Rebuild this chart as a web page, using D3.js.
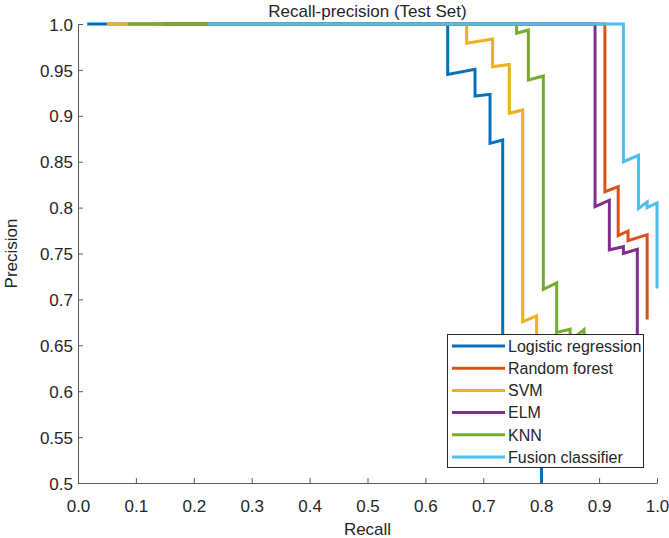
<!DOCTYPE html>
<html>
<head>
<meta charset="utf-8">
<script src="https://cdn.jsdelivr.net/npm/d3@7"></script>
<style>
  html, body { margin: 0; padding: 0; background: #fff; }
  svg { display: block; font-family: "Liberation Sans", Arial, Helvetica, sans-serif; }
</style>
</head>
<body>
<svg id="chart" width="669" height="538"></svg>
<script>
// ---- Data ----
const seriesNames = ["Logistic regression", "Random forest", "SVM", "ELM", "KNN", "Fusion classifier"];
const seriesColors = ["#0072BD", "#D95319", "#EDB120", "#7E2F8E", "#77AC30", "#4DBEEE"];

const recallLR    = [0.016, 0.6385, 0.6385, 0.6857, 0.6857, 0.7116, 0.7116, 0.7335, 0.7335, 0.8005, 0.8005];
const precisionLR = [1.0,   1.0,    0.945,  0.9507, 0.9216, 0.9234, 0.870,  0.8736, 0.56,   0.53,   0.5];

const recallRF    = [0.12, 0.910, 0.910,  0.933,  0.933,  0.950,  0.950, 0.983,  0.983];
const precisionRF = [1.0,  1.0,   0.8173, 0.8228, 0.7695, 0.7745, 0.764, 0.7705, 0.678];

const recallSVM    = [0.05, 0.6713, 0.6713, 0.716,  0.716,  0.745, 0.745,  0.768,  0.768,  0.792, 0.792];
const precisionSVM = [1.0,  1.0,    0.979,  0.9837, 0.9535, 0.956, 0.9027, 0.9063, 0.6757, 0.682, 0.60];

const recallELM    = [0.15, 0.893, 0.893, 0.9177, 0.9177, 0.942,  0.942, 0.966,  0.966];
const precisionELM = [1.0,  1.0,   0.801, 0.808,  0.754,  0.7574, 0.750, 0.7546, 0.60];

const recallKNN    = [0.086, 0.7575, 0.7575, 0.7778, 0.7778, 0.8037, 0.8037, 0.8267, 0.8267, 0.85,   0.85,  0.874, 0.874];
const precisionKNN = [1.0,   1.0,    0.99,   0.9935, 0.939,  0.9434, 0.711,  0.718,  0.664,  0.6675, 0.655, 0.667, 0.60];

const recallFusion    = [0.2245, 0.942, 0.942, 0.968, 0.968, 0.983, 0.983, 1.0,   1.0];
const precisionFusion = [1.0,    1.0,   0.850, 0.857, 0.799, 0.806, 0.800, 0.805, 0.712];

const xTickValues = [0, 0.1, 0.2, 0.3, 0.4, 0.5, 0.6, 0.7, 0.8, 0.9, 1.0];
const xTickLabels = ["0.0", "0.1", "0.2", "0.3", "0.4", "0.5", "0.6", "0.7", "0.8", "0.9", "1.0"];
const yTickValues = [0.5, 0.55, 0.6, 0.65, 0.7, 0.75, 0.8, 0.85, 0.9, 0.95, 1.0];
const yTickLabels = ["0.5", "0.55", "0.6", "0.65", "0.7", "0.75", "0.8", "0.85", "0.9", "0.95", "1.0"];

const titleText = "Recall-precision (Test Set)";
const xLabelText = "Recall";
const yLabelText = "Precision";

// ---- Build series ----
const recalls = [recallLR, recallRF, recallSVM, recallELM, recallKNN, recallFusion];
const precisions = [precisionLR, precisionRF, precisionSVM, precisionELM, precisionKNN, precisionFusion];
const series = seriesNames.map((name, i) => ({
  name, color: seriesColors[i],
  points: recalls[i].map((r, j) => ({ r, p: precisions[i][j] }))
}));

// ---- Layout ----
const svg = d3.select("#chart");
const plotLeft = 78, plotRight = 657, plotTop = 24, plotBottom = 483;
const textColor = "#262626";
const axisColor = "#5a5a5a";

const x = d3.scaleLinear().domain([0, 1]).range([plotLeft, plotRight]);
const y = d3.scaleLinear().domain([0.5, 1]).range([plotBottom, plotTop]);

// Lines
const line = d3.line().x(d => x(d.r)).y(d => y(d.p));
svg.append("g").selectAll("path").data(series).join("path")
  .attr("d", d => line(d.points))
  .attr("fill", "none")
  .attr("stroke", d => d.color)
  .attr("stroke-width", 3)
  .attr("stroke-linejoin", "miter");

// Axes
const xAxis = d3.axisBottom(x)
  .tickValues(xTickValues)
  .tickFormat((d, i) => xTickLabels[i])
  .tickSize(-5).tickSizeOuter(0).tickPadding(17);
const gx = svg.append("g").attr("transform", `translate(0,${plotBottom})`).call(xAxis);

const yAxis = d3.axisLeft(y)
  .tickValues(yTickValues)
  .tickFormat((d, i) => yTickLabels[i])
  .tickSize(-5).tickSizeOuter(0).tickPadding(5);
const gy = svg.append("g").attr("transform", `translate(${plotLeft},0)`).call(yAxis);

[gx, gy].forEach(g => {
  g.select(".domain").attr("stroke", axisColor).attr("stroke-width", 1);
  g.selectAll(".tick line").attr("stroke", axisColor).attr("stroke-width", 1);
  g.selectAll(".tick text").attr("fill", textColor)
    .style("font-size", "17px")
    .style("font-family", "'Liberation Sans', Arial, Helvetica, sans-serif");
});
gy.selectAll(".tick text").attr("dy", "0.36em");

// Title & axis labels
svg.append("text").attr("x", (plotLeft + plotRight) / 2).attr("y", 17)
  .attr("text-anchor", "middle").attr("fill", textColor)
  .style("font-size", "17px").text(titleText);

svg.append("text").attr("x", (plotLeft + plotRight) / 2).attr("y", 535)
  .attr("text-anchor", "middle").attr("fill", textColor)
  .style("font-size", "17px").text(xLabelText);

svg.append("text")
  .attr("transform", `translate(17,${(plotTop + plotBottom) / 2}) rotate(-90)`)
  .attr("text-anchor", "middle").attr("fill", textColor)
  .style("font-size", "17px").text(yLabelText);

// Legend
const lg = svg.append("g");
lg.append("rect").attr("x", 447.5).attr("y", 334.5).attr("width", 196).attr("height", 133)
  .attr("fill", "#fff").attr("stroke", "#262626").attr("stroke-width", 1);
const rowY0 = 346, rowStep = 22.2;
const rows = lg.selectAll("g.row").data(series).join("g").attr("class", "row")
  .attr("transform", (d, i) => `translate(0,${rowY0 + i * rowStep})`);
rows.append("line").attr("x1", 452).attr("x2", 505).attr("y1", 0).attr("y2", 0)
  .attr("stroke", d => d.color).attr("stroke-width", 3);
rows.append("text").attr("x", 508).attr("y", 0).attr("dy", "0.36em")
  .attr("fill", textColor).style("font-size", "16px").text(d => d.name);
</script>
</body>
</html>
